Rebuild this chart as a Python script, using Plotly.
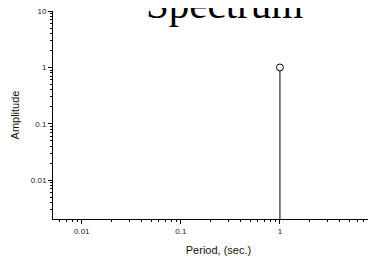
import plotly.graph_objects as go

# data
period = [1.0]
amplitude = [1.0]

x_tickvals = [0.01, 0.1, 1, 10]
x_ticktext = ["0.01", "0.1", "1", "10"]
y_tickvals = [0.01, 0.1, 1, 10]
y_ticktext = ["0.01", "0.1", "1", "10"]

X_RANGE = [-2.29, 1.05]
Y_RANGE = [-2.69, 1.003]
Y_FLOOR = 10 ** Y_RANGE[0]

minor_vals = [m * 10 ** e for e in range(-4, 2) for m in range(2, 10)]

fig = go.Figure()
for p, a in zip(period, amplitude):
    fig.add_trace(go.Scatter(x=[p, p], y=[Y_FLOOR, a], mode="lines",
                             line=dict(color="black", width=1), showlegend=False,
                             cliponaxis=False))
fig.add_trace(go.Scatter(x=period, y=amplitude, mode="markers",
                         marker=dict(symbol="circle", size=7, color="white",
                                     line=dict(color="black", width=1)),
                         showlegend=False, cliponaxis=False))

axis_common = dict(
    type="log", showgrid=False, zeroline=False, showline=True,
    linecolor="black", linewidth=1, ticks="outside", ticklen=4,
    tickcolor="black", tickwidth=1, tickmode="array",
    ticklabeloverflow="allow",
    tickfont=dict(family="Liberation Sans, Arial", size=8, color="#222"),
    minor=dict(tickvals=minor_vals, ticks="outside", ticklen=2,
               tickcolor="black", tickwidth=1, showgrid=False),
)

fig.update_xaxes(range=X_RANGE, tickvals=x_tickvals, ticktext=x_ticktext,
                 title=dict(text="Period, (sec.)", standoff=11,
                            font=dict(family="Liberation Sans, Arial", size=11, color="#111")),
                 **axis_common)
fig.update_yaxes(range=Y_RANGE, tickvals=y_tickvals, ticktext=y_ticktext,
                 title=dict(text="Amplitude", standoff=8,
                            font=dict(family="Liberation Sans, Arial", size=11, color="#111")),
                 **axis_common)

fig.add_annotation(text="Spectrum", xref="paper", yref="paper",
                   x=0.518, y=0.912, xanchor="center", yanchor="bottom",
                   showarrow=False,
                   font=dict(family="Liberation Serif, Times New Roman", size=41, color="black"))

fig.update_layout(width=376, height=258,
                  margin=dict(l=45, r=0, t=3, b=47, autoexpand=False),
                  paper_bgcolor="white", plot_bgcolor="white")

fig.write_html("out.html")
